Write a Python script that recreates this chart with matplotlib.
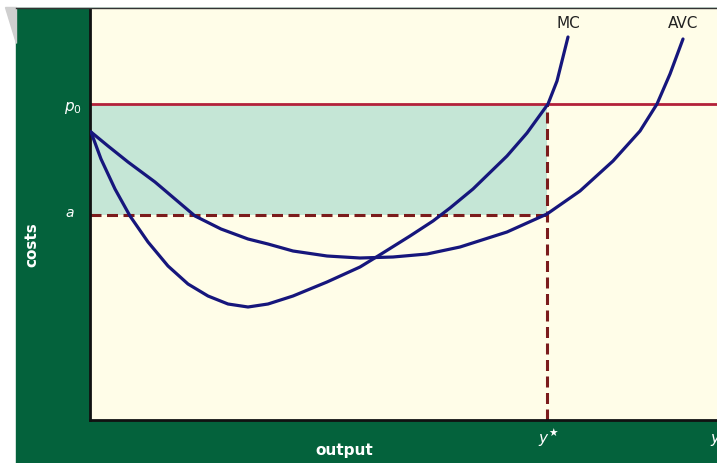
import matplotlib
matplotlib.use("Agg")
import matplotlib.pyplot as plt
from matplotlib.patches import Rectangle, Polygon

# output / cost readings (output: 0..627, cost: 0..411)
mc_x = [1, 11, 25, 40, 58, 78, 98, 118, 138, 158, 178, 203, 237, 270, 288, 320, 343, 360,
        383, 417, 437, 458, 467, 473, 478]
mc_y = [288, 261, 231, 204, 178, 154, 136, 124, 116, 113, 116, 124, 138, 153, 164, 184, 199, 212,
        231, 264, 287, 316, 339, 363, 383]
avc_x = [1, 18, 38, 65, 85, 105, 131, 158, 178, 203, 237, 270, 303, 337, 370, 417, 457, 490,
         523, 550, 567, 580, 593]
avc_y = [288, 274, 258, 238, 221, 204, 191, 181, 176, 169, 164, 162, 163, 166, 173, 188, 206, 229,
         259, 289, 316, 346, 381]
p0 = 316
a = 205
y_star = 457
x_max = 627
c_max = 411

green = "#04623c"
cream = "#fffde8"
navy = "#16167c"

fig = plt.figure(figsize=(7.17, 4.64), dpi=100)
fig.patch.set_facecolor("white")
fig.patches.append(Rectangle((16 / 717, 0), 1 - 16 / 717, 455 / 464,
                             transform=fig.transFigure, color=green, zorder=-10))
fig.patches.append(Polygon([(5 / 717, 456 / 464), (16 / 717, 456 / 464), (16 / 717, 420 / 464)],
                           closed=True, transform=fig.transFigure, color="#cfcfcf", zorder=-10))
fig.lines.append(plt.Line2D([16 / 717, 1], [455.5 / 464, 455.5 / 464], transform=fig.transFigure,
                            color="#333333", lw=1, zorder=5))

ax = fig.add_axes([90 / 717, 43 / 464, 627 / 717, 411 / 464])
ax.set_zorder(1)
ax.set_facecolor(cream)
ax.set_xlim(0, x_max)
ax.set_ylim(0, c_max)
ax.set_xticks([])
ax.set_yticks([])
for s in ["top", "right"]:
    ax.spines[s].set_visible(False)
for s in ["left", "bottom"]:
    ax.spines[s].set_color("#111111")
    ax.spines[s].set_linewidth(2)

# shaded area
ax.add_patch(Rectangle((0, a), y_star, p0 - a, color="#c5e6d6", zorder=1, lw=0))
ax.axhline(p0, color="#b3213a", lw=2, zorder=2)
ax.plot([0, y_star], [a, a], color="#7b1c1c", lw=2.2, ls=(0, (3.6, 1.8)), zorder=2)
ax.plot([y_star, y_star], [0, p0], color="#7b1c1c", lw=2.2, ls=(0, (3.6, 1.8)), zorder=2)

ax.plot(mc_x, mc_y, color=navy, lw=2.3, zorder=3, solid_capstyle="round", solid_joinstyle="round")
ax.plot(avc_x, avc_y, color=navy, lw=2.3, zorder=3, solid_capstyle="round", solid_joinstyle="round")

ax.text(mc_x[-1], c_max - 14, "MC", ha="center", va="center", fontsize=11, color="#222222")
ax.text(avc_x[-1], c_max - 14, "AVC", ha="center", va="center", fontsize=11, color="#222222")

# labels in green frame
fig.text(73 / 717, 1 - 108 / 464, "$p_0$", color="white", ha="center", va="center", fontsize=11)
fig.text(70 / 717, 1 - 213 / 464, "$a$", color="white", ha="center", va="center", fontsize=10)
fig.text(32 / 717, 1 - 245 / 464, "costs", color="white", ha="center", va="center",
         fontsize=11, fontweight="bold", rotation=90)
fig.text(344 / 717, 1 - 451 / 464, "output", color="white", ha="center", va="center",
         fontsize=11, fontweight="bold")
fig.text(548 / 717, 1 - 438 / 464, "$y^{\\bigstar}$", color="white", ha="center", va="center", fontsize=11)
fig.text(710 / 717, 1 - 440 / 464, "$y$", color="white", ha="left", va="center", fontsize=11)

fig.savefig("out.png", dpi=100)
